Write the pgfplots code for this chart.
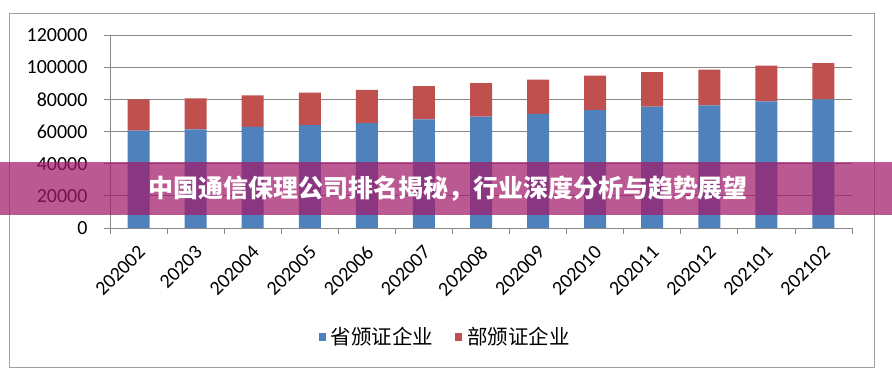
\documentclass[border=0pt]{standalone}
\usepackage{pgfplots}
\pgfplotsset{compat=1.18}
\usepackage{fontspec}
\setmainfont{Carlito}
\newfontfamily\cjk{Noto Sans CJK SC}
\definecolor{barblue}{RGB}{79,129,189}
\definecolor{barred}{RGB}{192,80,77}
\definecolor{gridgray}{RGB}{134,134,134}
\definecolor{banner}{RGB}{162,26,105}
\pgfplotstableread{
x blue red
0 60600 19400
1 61300 19300
2 62800 19700
3 63900 20200
4 65200 20600
5 67500 20700
6 69200 20900
7 71000 21200
8 73300 21400
9 75400 21500
10 76300 22100
11 78700 22300
12 80000 22500
}\datatable
\begin{document}
\begin{tikzpicture}[x=1pt,y=1pt]
\path[use as bounding box] (0,0) rectangle (892,379);
\fill[white] (0,0) rectangle (892,379);
\draw[gray!75, line width=0.9pt] (9,366) rectangle (874,12);
\begin{axis}[
  at={(110pt,151pt)}, anchor=south west,
  scale only axis, width=742pt, height=193pt,
  ybar stacked, bar width=22pt,
  xmin=-0.5, xmax=12.5, ymin=0, ymax=120000,
  xtick={0,...,12},
  xticklabels={202002,20203,202004,202005,202006,202007,202008,202009,202010,202011,202012,202101,202102},
  minor xtick={-0.5,0.5,...,12.5},
  major x tick style={draw=none},
  minor x tick style={draw=gridgray, line width=0.8pt},
  ytick={0,20000,...,120000},
  ymajorgrids, grid style={gridgray, line width=0.8pt},
  axis x line*=bottom, axis y line*=left,
  axis line style={gridgray, line width=0.8pt, -},
  tick align=outside, major tick length=6pt, minor tick length=6pt,
  y tick style={gridgray, line width=0.8pt},
  scaled y ticks=false,
  /pgf/number format/.cd, fixed, assume math mode=true, 1000 sep={}, /pgfplots/.cd,
  tick label style={font=\fontsize{20}{20}\selectfont, text=black},
  yticklabel style={xshift=-13pt},
  xticklabel style={rotate=45, anchor=east, xshift=-5pt, yshift=-13pt},
  legend style={at={(0.452,-0.565)}, anchor=center, draw=none, fill=none,
    legend columns=2, font=\cjk\fontsize{20.5}{21}\selectfont,
    /tikz/every odd column/.append style={column sep=3pt},
    /tikz/every even column/.append style={column sep=20pt}},
  legend image code/.code={\fill[#1, draw=none] (0pt,-4pt) rectangle (7pt,4pt);},
]
\addplot[fill=barblue, draw=none] table[x=x, y=blue] {\datatable};
\addlegendentry{省颁证企业}
\addplot[fill=barred, draw=none] table[x=x, y=red] {\datatable};
\addlegendentry{部颁证企业}
\end{axis}
\fill[banner, opacity=0.72] (0,164) rectangle (892,217);
\node[text=white, font=\cjk\bfseries\fontsize{25}{25}\selectfont] at (448,190.5) {中国通信保理公司排名揭秘，行业深度分析与趋势展望};
\end{tikzpicture}
\end{document}
